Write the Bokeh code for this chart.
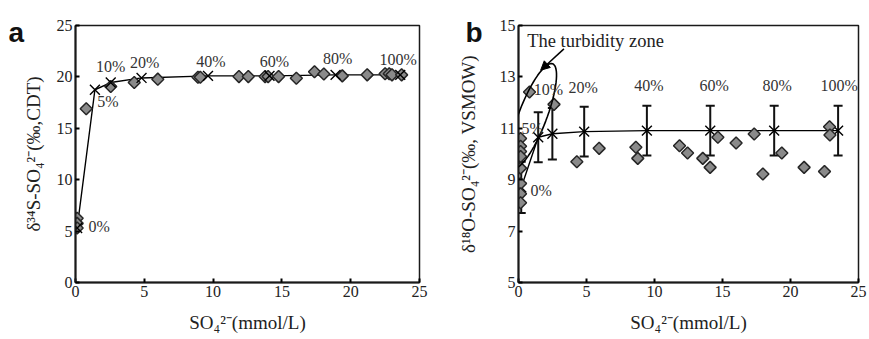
import math
from bokeh.plotting import figure
from bokeh.layouts import row
from bokeh.models import (Range1d, Label, Arrow, NormalHead, Whisker, ColumnDataSource,
                          FixedTicker, TeeHead, PolyAnnotation)
from bokeh.embed import file_html
from bokeh.resources import INLINE

# ---------------- data ----------------
mix_labels = ["0%", "5%", "10%", "20%", "40%", "60%", "80%", "100%"]
x_ticks = [0, 5, 10, 15, 20, 25]
a_y_ticks = [0, 5, 10, 15, 20, 25]
b_y_ticks = [5, 7, 9, 11, 13, 15]

# panel a: mixing model (crosses) and observed samples (diamonds)
a_mix_x = [0.12, 1.41, 2.56, 4.8, 9.63, 14.1, 18.9, 23.6]
a_mix_y = [5.3, 18.75, 19.45, 19.9, 20.1, 20.1, 20.2, 20.2]
a_obs_x = [0.12, 0.12, 0.12, 0.78, 2.56, 4.27, 5.98, 8.9, 9.07, 11.88, 12.56, 13.78,
           14.0, 14.76, 16.05, 17.37, 18.05, 19.39, 21.2, 22.5, 22.8, 23.0, 23.7]
a_obs_y = [6.25, 5.75, 5.3, 16.9, 19.07, 19.45, 19.78, 19.97, 19.97, 20.03, 20.03, 20.03,
           20.03, 20.03, 19.87, 20.5, 20.29, 20.1, 20.2, 20.3, 20.3, 20.2, 20.2]

# panel b: mixing model with error bars and observed samples
b_mix_x = [0.2, 1.45, 2.49, 4.83, 9.44, 14.1, 18.8, 23.5]
b_mix_y = [8.7, 10.65, 10.79, 10.87, 10.91, 10.91, 10.91, 10.91]
b_mix_err = [1.0, 0.97, 1.0, 0.97, 0.97, 0.97, 0.97, 0.97]
b_obs_x = [0.15, 0.15, 0.15, 0.15, 0.15, 0.15, 0.15, 0.15, 0.81, 2.61, 4.29, 5.93,
           8.63, 8.77, 11.84, 12.43, 13.55, 14.09, 14.66, 16.0, 17.33, 17.97, 19.36,
           21.0, 22.5, 22.87, 22.9]
b_obs_y = [10.6, 10.3, 10.1, 9.9, 9.45, 8.85, 8.45, 8.1, 12.41, 11.93, 9.7, 10.22,
           10.26, 9.83, 10.32, 10.04, 9.83, 9.48, 10.65, 10.43, 10.78, 9.22, 10.04,
           9.48, 9.32, 11.06, 10.74]

# label offsets (pixels) for the mixing-ratio labels
a_lab_dx = [22, 13, 0, 3, 3, 5, 2, -2]
a_lab_dy = [2, -12, 16, 15, 14, 14, 16, 15]
b_lab_dx = [20, -6, -4, -1, 2, 4, 3, 1]
b_lab_dy = [-3, 9, 44, 44, 45, 45, 45, 45]

SERIF = "Liberation Serif"
DIAMOND_FILL = "#8a8a8a"
DIAMOND_LINE = "#262626"

# figure geometry: (width, height, left, right, top, bottom)
A_GEOM = (435, 339, 75, 16, 25, 54)
B_GEOM = (434, 339, 83, 11, 22, 57)


def make_fig(geom, yrange, yticks, ylabel, label_standoff):
    width, height, left, right, top, bottom = geom
    p = figure(width=width, height=height, x_range=Range1d(0, 25), y_range=Range1d(*yrange),
               output_backend="svg", toolbar_location=None,
               min_border_left=left, min_border_right=right,
               min_border_top=top, min_border_bottom=bottom)
    p.xgrid.visible = False
    p.ygrid.visible = False
    p.outline_line_color = "#1a1a1a"
    p.outline_line_width = 1.5
    p.xaxis.ticker = FixedTicker(ticks=x_ticks)
    p.yaxis.ticker = FixedTicker(ticks=yticks)
    for ax in (p.xaxis[0], p.yaxis[0]):
        ax.major_tick_in = 4
        ax.major_tick_out = 0
        ax.minor_tick_line_color = None
        ax.axis_line_width = 2
        ax.axis_line_color = "#1a1a1a"
        ax.major_tick_line_width = 2
        ax.major_label_text_font = SERIF
        ax.major_label_text_font_size = "16px"
        ax.major_label_text_color = "#222222"
        ax.axis_label_text_font = SERIF
        ax.axis_label_text_font_size = "19px"
        ax.axis_label_text_font_style = "normal"
        ax.axis_label_text_color = "#222222"
        ax.major_label_standoff = 3
    p.xaxis.axis_label = "SO₄²⁻(mmol/L)"
    p.xaxis.axis_label_standoff = 12
    p.yaxis.axis_label = ylabel
    p.yaxis.axis_label_standoff = label_standoff
    return p


def panel_letter(p, text, x, y):
    # placed in the side panel so that it is not clipped to the plotting frame
    p.add_layout(Label(x=x, y=y, x_units="canvas", y_units="canvas", text=text,
                       text_font="Liberation Sans", text_font_style="bold",
                       text_font_size="28px", text_color="#111111",
                       text_align="left", text_baseline="alphabetic"), "left")


# ---------------- panel a ----------------
pa = make_fig(A_GEOM, (0, 25), a_y_ticks, "δ³⁴S-SO₄²⁻(‰,CDT)", 10)
pa.line(a_mix_x, a_mix_y, line_color="black", line_width=1.4)
pa.scatter(a_obs_x, a_obs_y, marker="square", angle=0.785, size=8.5,
           fill_color=DIAMOND_FILL, line_color=DIAMOND_LINE, line_width=1.5)
pa.scatter(a_mix_x, a_mix_y, marker="x", size=14, line_color="black", line_width=1.4)
for t, xx, yy, dx, dy in zip(mix_labels, a_mix_x, a_mix_y, a_lab_dx, a_lab_dy):
    pa.add_layout(Label(x=xx, y=yy, text=t, x_offset=dx, y_offset=dy,
                        text_align="center", text_baseline="middle",
                        text_font=SERIF, text_font_size="16px", text_color="#333333"))
panel_letter(pa, "a", 8, 32)

# ---------------- panel b ----------------
pb = make_fig(B_GEOM, (5, 15), b_y_ticks, "δ¹⁸O-SO₄²⁻(‰, VSMOW)", 18)
src = ColumnDataSource(dict(x=b_mix_x, y=b_mix_y,
                            lo=[v - e for v, e in zip(b_mix_y, b_mix_err)],
                            hi=[v + e for v, e in zip(b_mix_y, b_mix_err)]))
pb.add_layout(Whisker(source=src, base="x", lower="lo", upper="hi", line_width=2,
                      line_color="#111111",
                      lower_head=TeeHead(size=9, line_width=2, line_color="#111111"),
                      upper_head=TeeHead(size=9, line_width=2, line_color="#111111")))
pb.line(b_mix_x, b_mix_y, line_color="black", line_width=1.4)
pb.scatter(b_mix_x, b_mix_y, marker="x", size=14, line_color="black", line_width=1.4)
pb.scatter(b_obs_x, b_obs_y, marker="square", angle=0.785, size=8.5,
           fill_color=DIAMOND_FILL, line_color=DIAMOND_LINE, line_width=1.5)
for t, xx, yy, dx, dy in zip(mix_labels, b_mix_x, b_mix_y, b_lab_dx, b_lab_dy):
    pb.add_layout(Label(x=xx, y=yy, text=t, x_offset=dx, y_offset=dy,
                        text_align="center", text_baseline="middle",
                        text_font=SERIF, text_font_size="16px", text_color="#333333"))

# turbidity zone: tilted ellipse outline drawn in canvas pixels (it crosses the y axis,
# so it sits in the side panel to avoid being clipped to the frame)
zone_x, zone_y = 1.04, 11.4
zone_a_px, zone_b_px, zone_tilt = 14.0, 56.0, -0.365
bw, bh, bl, br, bt, bb = B_GEOM
px_per_x = (bw - bl - br) / 25.0
px_per_y = (bh - bt - bb) / 10.0
cx = bl + zone_x * px_per_x
cy = bt + (15 - zone_y) * px_per_y
ex, ey = [], []
for k in range(73):
    t = 2 * math.pi * k / 72
    u, v = zone_a_px * math.cos(t), zone_b_px * math.sin(t)
    ex.append(cx + (u * math.cos(zone_tilt) - v * math.sin(zone_tilt)))
    ey.append(cy - (u * math.sin(zone_tilt) + v * math.cos(zone_tilt)))
pb.add_layout(PolyAnnotation(xs=ex, ys=ey, xs_units="canvas", ys_units="canvas",
                             fill_color=None, fill_alpha=0,
                             line_color="black", line_alpha=1.0, line_width=1.6), "left")
pb.add_layout(Arrow(end=NormalHead(size=9, fill_color="black", line_color="black"),
                    x_start=3.34, y_start=14.09, x_end=1.63, y_end=13.26,
                    line_width=1.5, line_color="black"))
pb.add_layout(Label(x=0.64, y=14.38, text="The turbidity zone", text_align="left",
                    text_baseline="middle", text_font=SERIF, text_font_size="18.5px",
                    text_color="#222222"))
panel_letter(pb, "b", 30, 32)

layout = row(pa, pb, spacing=0)
open("out.html", "w").write(file_html(layout, INLINE))
